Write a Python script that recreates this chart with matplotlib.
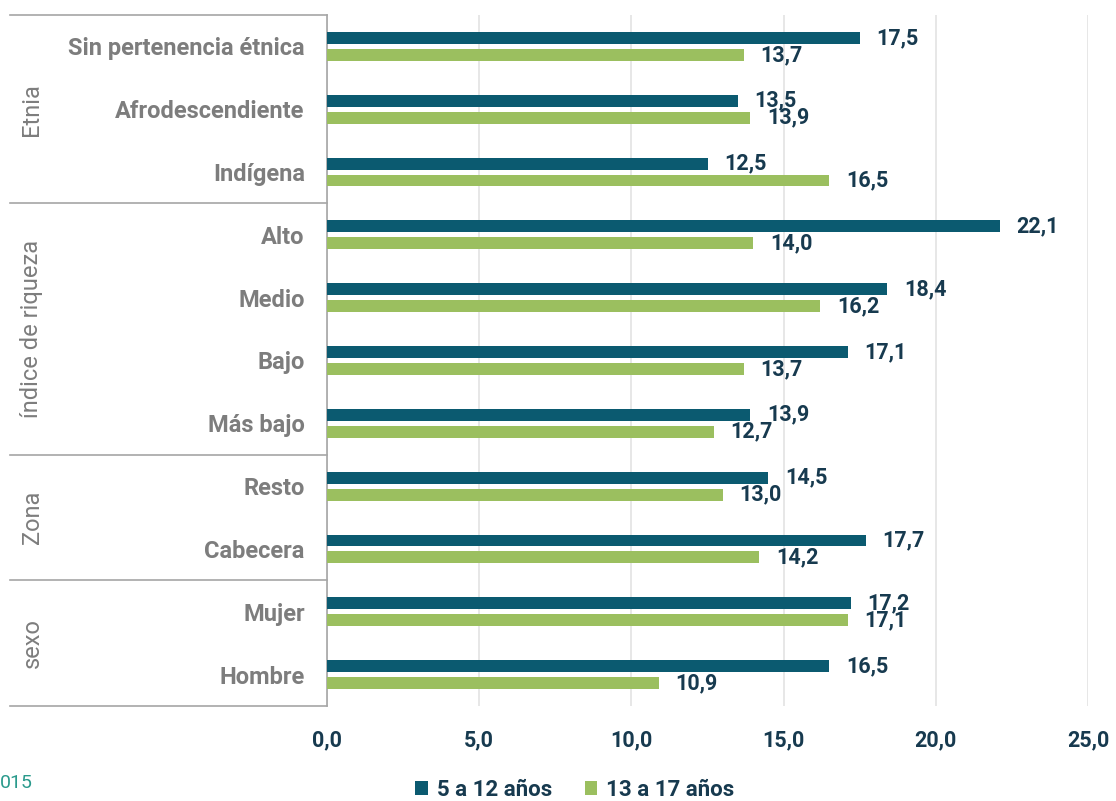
import matplotlib.pyplot as plt
import matplotlib.transforms as mtransforms
import numpy as np

plt.rcParams['font.family'] = ['Roboto', 'DejaVu Sans']

categories = ["Sin pertenencia étnica", "Afrodescendiente", "Indígena",
              "Alto", "Medio", "Bajo", "Más bajo",
              "Resto", "Cabecera",
              "Mujer", "Hombre"]
groups = ["Etnia", "índice de riqueza", "Zona", "sexo"]
group_sizes = [3, 4, 2, 2]
ninos = [17.5, 13.5, 12.5, 22.1, 18.4, 17.1, 13.9, 14.5, 17.7, 17.2, 16.5]
adolescentes = [13.7, 13.9, 16.5, 14.0, 16.2, 13.7, 12.7, 13.0, 14.2, 17.1, 10.9]
series_names = ["5 a 12 años", "13 a 17 años"]

DARK = "#0b5a70"
GREEN = "#9bbf5f"
LABEL = "#173a4f"
GRAY = "#7d7d7d"
LINE = "#a6a6a6"

fig = plt.figure(figsize=(11.16, 8.01), dpi=100)
ax = fig.add_axes([327 / 1116, 1 - 706 / 801, (1088 - 327) / 1116, (706 - 15) / 801])

y = np.arange(len(categories))
h = 0.19
off = 0.135
ax.barh(y - off, ninos, height=h, color=DARK, label=series_names[0], zorder=3)
ax.barh(y + off, adolescentes, height=h, color=GREEN, label=series_names[1], zorder=3)

# value labels (some overlap in the original too)
for yi, v in zip(y, ninos):
    ax.annotate(f"{v:.1f}".replace(".", ","), (v, yi - off), xytext=(12, 0),
                textcoords="offset points", va="center", ha="left",
                fontsize=15.5, fontweight="bold", color=LABEL)
for yi, v in zip(y, adolescentes):
    ax.annotate(f"{v:.1f}".replace(".", ","), (v, yi + off), xytext=(12, 0),
                textcoords="offset points", va="center", ha="left",
                fontsize=15.5, fontweight="bold", color=LABEL)

ax.set_xlim(0, 25)
ax.set_ylim(len(categories) - 0.5, -0.5)
ax.set_xticks(np.arange(0, 26, 5))
ax.set_xticklabels([f"{t:.1f}".replace(".", ",") for t in np.arange(0, 26, 5)],
                   fontsize=15.5, fontweight="bold", color=LABEL)
ax.tick_params(axis="x", length=0, pad=17)
ax.set_yticks(y)
ax.set_yticklabels(categories, fontsize=17, fontweight="bold", color=GRAY)
ax.tick_params(axis="y", length=0, pad=16)
ax.grid(axis="x", color="#e3e3e3", linewidth=1.2, zorder=0)

for s in ["top", "right", "bottom"]:
    ax.spines[s].set_visible(False)
ax.spines["left"].set_color(LINE)
ax.spines["left"].set_linewidth(1.2)

# group separators and labels on the left
trans = mtransforms.blended_transform_factory(ax.transAxes, ax.transData)
x_left = (10 - 327) / (1088 - 327)
start = 0
bounds = [-0.5]
for g, n in zip(groups, group_sizes):
    bounds.append(start + n - 0.5)
    ax.text((32 - 327) / (1088 - 327), start + (n - 1) / 2, g, transform=trans,
            rotation=90, ha="center", va="center", fontsize=17, color=GRAY)
    start += n
for b in bounds:
    ax.plot([x_left, 0], [b, b], transform=trans, color=LINE, lw=1.2, clip_on=False)

fig.legend(loc="center", bbox_to_anchor=(575 / 1116, 1 - 790 / 801), ncol=2,
           frameon=False, handlelength=0.55, handleheight=0.55,
           handletextpad=0.4, columnspacing=1.5,
           prop={"weight": "bold", "size": 16})
for t in fig.legends[0].get_texts():
    t.set_color(LABEL)

fig.text(0, 1 - 783 / 801, "015", ha="left", va="center", fontsize=14, color="#2a9a8c")

fig.savefig("out.png", dpi=100)
